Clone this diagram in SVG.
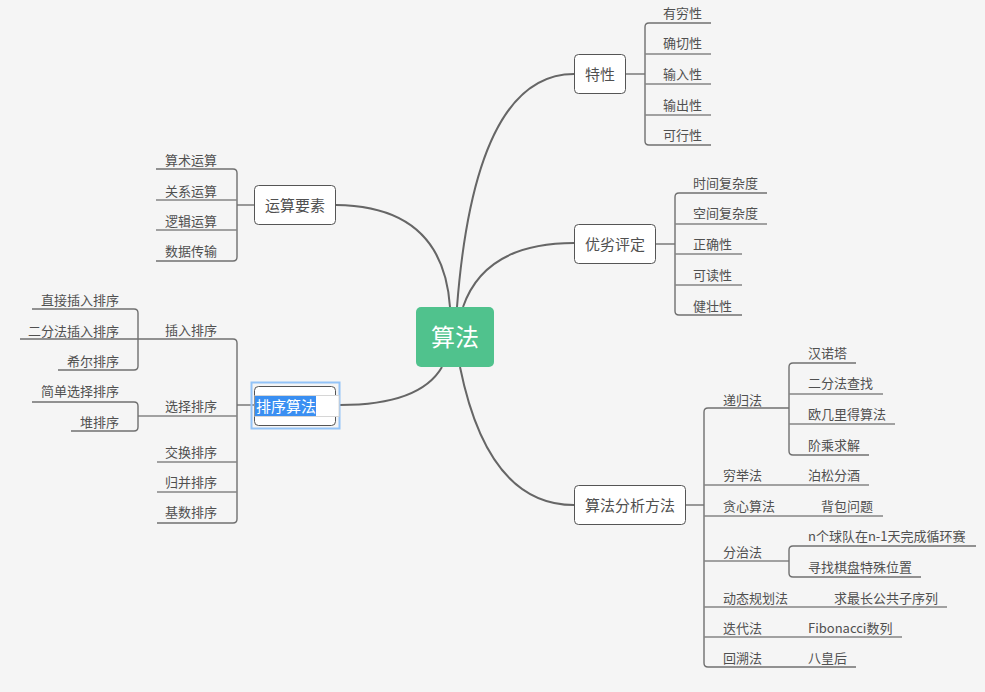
<svg xmlns="http://www.w3.org/2000/svg" width="985" height="692" viewBox="0 0 985 692">
<style>
text{font-family:"Noto Sans CJK SC","Liberation Sans",sans-serif;fill:#505050;}
.t{font-size:13px;}
.n{font-size:15px;text-anchor:middle;}
.e{text-anchor:end;}
.box{fill:#ffffff;stroke:#555555;stroke-width:1;}
.br{fill:none;stroke:#707070;stroke-width:1.4;}
.ul{fill:none;stroke:#858585;stroke-width:1.4;}
.cv{fill:none;stroke:#666666;stroke-width:2;}
</style>
<rect width="985" height="692" fill="#f5f5f5"/>
<g id="connectors">
<path class="cv" d="M457,307 Q475,74 574,74"/>
<path class="cv" d="M463,307 Q485,243 574,243"/>
<path class="cv" d="M450,307 Q443,206 336,205"/>
<path class="cv" d="M442,367 Q420,405 340,405"/>
<path class="cv" d="M460,367 Q488,505 574,505"/>
<!-- 特性 -->
<path class="br" d="M626,74 H645"/>
<path class="br" d="M711,23 H649 Q645,23 645,27 V141 Q645,145 649,145 H711"/>
<path class="ul" d="M645,54 H711 M645,84 H711 M645,115 H711"/>
<!-- 优劣评定 -->
<path class="br" d="M656,244 H675"/>
<path class="br" d="M767,193 H679 Q675,193 675,197 V311 Q675,315 679,315 H742"/>
<path class="ul" d="M675,224 H767 M675,254 H742 M675,285 H742"/>
<!-- 运算要素 -->
<path class="br" d="M254,205 H237"/>
<path class="br" d="M156,169 H233 Q237,169 237,173 V257 Q237,261 233,261 H156"/>
<path class="ul" d="M156,200 H237 M156,230 H237"/>
<!-- 排序算法 -->
<path class="br" d="M254,405 H237"/>
<path class="br" d="M20,339 H233 Q237,339 237,343 V519 Q237,523 233,523 H157"/>
<path class="ul" d="M138,416 H237 M157,462 H237 M157,492 H237"/>
<path class="br" d="M32,309 H134 Q138,309 138,313 V366 Q138,370 134,370 H58"/>
<path class="br" d="M32,402 H134 Q138,402 138,406 V427 Q138,431 134,431 H71"/>
<!-- 算法分析方法 -->
<path class="br" d="M686,505 H704"/>
<path class="br" d="M789,408 H708 Q704,408 704,412 V663 Q704,667 708,667 H856"/>
<path class="ul" d="M704,485 H869 M704,516 H883 M704,561 H789 M704,607 H947 M704,637 H902"/>
<path class="br" d="M856,363 H793 Q789,363 789,367 V451 Q789,455 793,455 H869"/>
<path class="ul" d="M789,394 H883 M789,424 H895"/>
<path class="br" d="M976,546 H793 Q789,546 789,550 V573 Q789,577 793,577 H921"/>
</g>
<g id="root">
<rect x="416" y="307" width="78" height="60" rx="5" fill="#50c28d"/>
<text x="455" y="346" style="font-size:24px;fill:#ffffff;text-anchor:middle">算法</text>
</g>
<g id="n-texing">
<rect class="box" x="574.5" y="54.5" width="51" height="39" rx="4"/>
<text class="n" x="600" y="80">特性</text>
<text class="t" x="663" y="18">有穷性</text>
<text class="t" x="663" y="48">确切性</text>
<text class="t" x="663" y="79">输入性</text>
<text class="t" x="663" y="110">输出性</text>
<text class="t" x="663" y="140">可行性</text>
</g>
<g id="n-youlie">
<rect class="box" x="574.5" y="224.5" width="81" height="39" rx="4"/>
<text class="n" x="615" y="250">优劣评定</text>
<text class="t" x="693" y="188">时间复杂度</text>
<text class="t" x="693" y="218">空间复杂度</text>
<text class="t" x="693" y="249">正确性</text>
<text class="t" x="693" y="280">可读性</text>
<text class="t" x="693" y="311">健壮性</text>
</g>
<g id="n-yunsuan">
<rect class="box" x="254.5" y="185.5" width="81" height="39" rx="4"/>
<text class="n" x="295" y="211">运算要素</text>
<text class="t e" x="217" y="165">算术运算</text>
<text class="t e" x="217" y="196">关系运算</text>
<text class="t e" x="217" y="226">逻辑运算</text>
<text class="t e" x="217" y="256">数据传输</text>
</g>
<g id="n-paixu">
<rect class="box" x="254.5" y="386.5" width="81" height="39" rx="4"/>
<rect x="251.5" y="382.5" width="88" height="46" fill="none" stroke="#93c3f7" stroke-width="2"/>
<rect x="255" y="395.5" width="84" height="21" fill="#ffffff" stroke="#d6d6d6" stroke-width="1"/>
<rect x="255" y="396" width="61" height="20" fill="#3a8ff2"/>
<text x="256" y="412" style="font-size:15px;fill:#ffffff">排序算法</text>
<text class="t e" x="217" y="335">插入排序</text>
<text class="t e" x="217" y="411">选择排序</text>
<text class="t e" x="217" y="457">交换排序</text>
<text class="t e" x="217" y="487">归并排序</text>
<text class="t e" x="217" y="517">基数排序</text>
<text class="t e" x="119" y="305">直接插入排序</text>
<text class="t e" x="119" y="336">二分法插入排序</text>
<text class="t e" x="119" y="366">希尔排序</text>
<text class="t e" x="119" y="396">简单选择排序</text>
<text class="t e" x="119" y="427">堆排序</text>
</g>
<g id="n-fenxi">
<rect class="box" x="574.5" y="485.5" width="111" height="39" rx="4"/>
<text class="n" x="630" y="511">算法分析方法</text>
<text class="t" x="723" y="405">递归法</text>
<text class="t" x="723" y="480">穷举法</text>
<text class="t" x="723" y="511">贪心算法</text>
<text class="t" x="723" y="557">分治法</text>
<text class="t" x="723" y="603">动态规划法</text>
<text class="t" x="723" y="633">迭代法</text>
<text class="t" x="723" y="663">回溯法</text>
<text class="t" x="808" y="358">汉诺塔</text>
<text class="t" x="808" y="388">二分法查找</text>
<text class="t" x="808" y="419">欧几里得算法</text>
<text class="t" x="808" y="450">阶乘求解</text>
<text class="t" x="808" y="480">泊松分酒</text>
<text class="t" x="821" y="511">背包问题</text>
<text class="t" x="808" y="541">n个球队在n-1天完成循环赛</text>
<text class="t" x="808" y="572">寻找棋盘特殊位置</text>
<text class="t" x="834" y="603">求最长公共子序列</text>
<text class="t" x="808" y="633">Fibonacci数列</text>
<text class="t" x="808" y="663">八皇后</text>
</g>
</svg>
